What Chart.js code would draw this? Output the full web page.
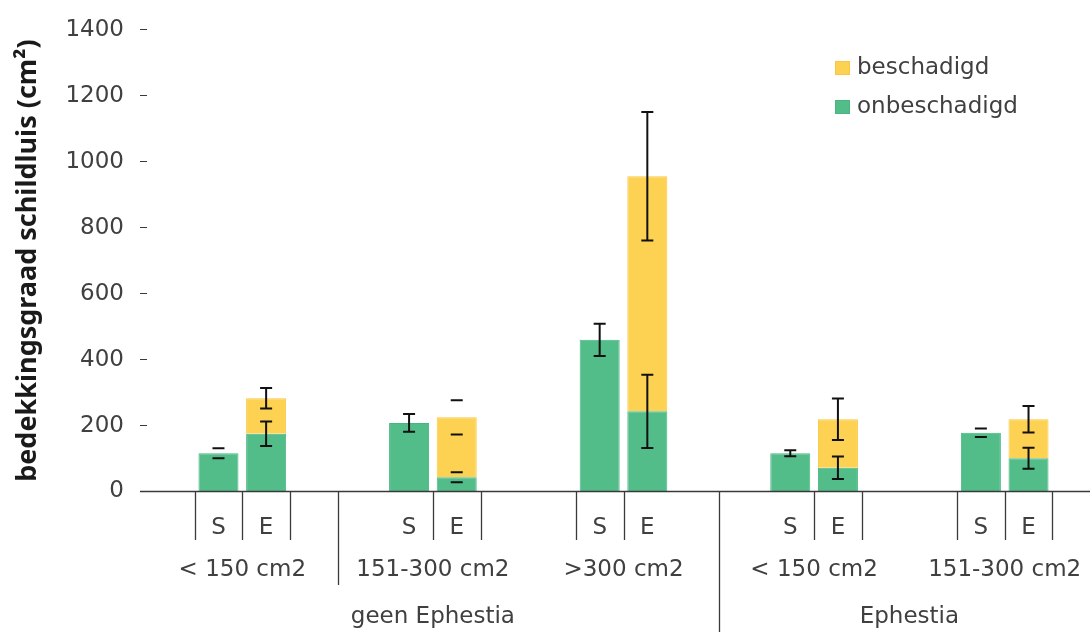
<!DOCTYPE html>
<html>
<head>
<meta charset="utf-8">
<script src="https://cdn.jsdelivr.net/npm/chart.js@4.4.0/dist/chart.umd.min.js"></script>
<style>
  html, body { margin: 0; padding: 0; background: #fff; overflow: hidden; }
  #wrap { width: 1110px; height: 632px; }
</style>
</head>
<body>
<div id="wrap"><canvas id="myChart" width="1110" height="632"></canvas></div>
<script>
'use strict';

// one slot per bar, empty slots keep the groups apart
var slotLabels = ['', 'S', 'E', '', '', 'S', 'E', '', '', 'S', 'E', '', '', 'S', 'E', '', '', 'S', 'E', ''];
var sizeLabels = ['< 150 cm2', '151-300 cm2', '>300 cm2', '< 150 cm2', '151-300 cm2'];
var treatLabels = ['geen Ephestia', 'Ephestia'];

var onbeschadigd = [null, 116, 175, null, null, 208, 43, null, null, 460, 243, null, null, 116, 72, null, null, 178, 101, null];
var beschadigd = [null, null, 108, null, null, null, 182, null, null, null, 713, null, null, null, 147, null, null, null, 118, null];
var errOnbeschadigd = [null, 15, 37, null, null, 27, 15, null, null, 49, 111, null, null, 9, 34, null, null, 13, 32, null];
var errBeschadigd = [null, null, 31, null, null, null, 52, null, null, null, 195, null, null, null, 63, null, null, null, 40, null];

var yMax = 1400;
var yStep = 200;

var textColor = '#404040';
var lineColor = '#3a3a3a';
var font = 'DejaVu Sans';

var errorBars = {
  id: 'errorBars',
  afterDatasetsDraw: function(chart, args, opts) {
    var ctx = chart.ctx;
    var yScale = chart.scales.y;
    var errs = [errOnbeschadigd, errBeschadigd];
    ctx.save();
    ctx.strokeStyle = '#111';
    ctx.lineWidth = 2;
    for (var i = 0; i < errs.length; i++) {
      var meta = chart.getDatasetMeta(i);
      for (var j = 0; j < errs[i].length; j++) {
        var e = errs[i][j];
        if (e === null) continue;
        var el = meta.data[j];
        var v = yScale.getValueForPixel(el.y);
        var hi = yScale.getPixelForValue(v + e);
        var lo = yScale.getPixelForValue(v - e);
        var capsOnly = opts.capsOnly.some(function(p) { return p[0] === i && p[1] === j; });
        ctx.beginPath();
        if (!capsOnly) {
          ctx.moveTo(el.x, hi);
          ctx.lineTo(el.x, lo);
        }
        ctx.moveTo(el.x - 6, hi);
        ctx.lineTo(el.x + 6, hi);
        ctx.moveTo(el.x - 6, lo);
        ctx.lineTo(el.x + 6, lo);
        ctx.stroke();
      }
    }
    ctx.restore();
  }
};

var categoryAxis = {
  id: 'categoryAxis',
  afterDraw: function(chart, args, opts) {
    var ctx = chart.ctx;
    var x = chart.scales.x;
    var area = chart.chartArea;
    var bottom = area.bottom;
    function edge(k) { return x.getPixelForValue(k - 0.5); }

    ctx.save();
    ctx.strokeStyle = lineColor;
    ctx.lineWidth = 1.3;
    ctx.beginPath();
    ctx.moveTo(area.left - 7, bottom);
    ctx.lineTo(chart.width, bottom);
    opts.lines.forEach(function(l) {
      var px = Math.round(edge(l[0])) + 0.5;
      ctx.moveTo(px, bottom);
      ctx.lineTo(px, l[1]);
    });
    ctx.stroke();

    ctx.fillStyle = textColor;
    ctx.font = '23px "' + font + '"';
    ctx.textAlign = 'center';
    ctx.textBaseline = 'middle';
    sizeLabels.forEach(function(t, g) {
      ctx.fillText(t, (edge(g * 4) + edge(g * 4 + 4)) / 2, opts.sizeY);
    });
    var spans = [[0, 12], [12, 20]];
    treatLabels.forEach(function(t, g) {
      ctx.fillText(t, (edge(spans[g][0]) + edge(spans[g][1])) / 2, opts.treatY);
    });
    ctx.restore();
  }
};

var boxLegend = {
  id: 'boxLegend',
  afterDraw: function(chart, args, opts) {
    var ctx = chart.ctx;
    var sets = chart.data.datasets.slice().reverse();
    ctx.save();
    ctx.font = '23px "' + font + '"';
    ctx.textBaseline = 'middle';
    sets.forEach(function(ds, i) {
      var y = opts.y + i * opts.gap;
      ctx.fillStyle = ds.backgroundColor;
      ctx.fillRect(opts.x, y - 7, 15, 14);
      ctx.strokeStyle = ds.borderColor;
      ctx.lineWidth = 1;
      ctx.strokeRect(opts.x + 0.5, y - 6.5, 14, 13);
      ctx.fillStyle = textColor;
      ctx.fillText(ds.label, opts.x + 22, y);
    });
    ctx.restore();
  }
};

var ctx = document.getElementById('myChart').getContext('2d');
var chart = new Chart(ctx, {
  type: 'bar',
  data: {
    labels: slotLabels,
    datasets: [{
      label: 'onbeschadigd',
      data: onbeschadigd,
      backgroundColor: 'rgb(82, 189, 137)',
      borderColor: 'rgb(72, 182, 128)',
      borderWidth: 1
    }, {
      label: 'beschadigd',
      data: beschadigd,
      backgroundColor: 'rgb(253, 210, 82)',
      borderColor: 'rgb(250, 198, 64)',
      borderWidth: 1
    }]
  },
  options: {
    responsive: false,
    animation: false,
    devicePixelRatio: 1,
    barPercentage: 0.84,
    categoryPercentage: 1,
    layout: { padding: { top: 22, right: 10, left: 0, bottom: 0 } },
    plugins: {
      legend: { display: false },
      tooltip: { enabled: false },
      errorBars: { capsOnly: [[0, 1], [0, 6], [1, 6], [0, 17]] },
      categoryAxis: {
        lines: [[1, 540], [2, 540], [3, 540], [4, 585], [6, 540], [7, 540], [9, 540], [10, 540],
                [12, 632], [14, 540], [15, 540], [17, 540], [18, 540], [19, 540]],
        sizeY: 570,
        treatY: 617
      },
      boxLegend: { x: 835, y: 68, gap: 39 }
    },
    scales: {
      x: {
        stacked: true,
        grid: { display: false },
        border: { display: false },
        ticks: {
          autoSkip: false,
          maxRotation: 0,
          padding: 15,
          color: textColor,
          font: { family: font, size: 23 }
        },
        afterFit: function(s) { s.height = 140.5; }
      },
      y: {
        stacked: true,
        min: 0,
        max: yMax,
        grid: {
          drawOnChartArea: false,
          drawTicks: true,
          tickLength: 7,
          tickColor: lineColor,
          tickWidth: 1
        },
        border: { display: false },
        ticks: {
          stepSize: yStep,
          padding: 16,
          color: textColor,
          font: { family: font, size: 23 },
          callback: function(v) { return String(v); }
        },
        title: {
          display: true,
          text: 'bedekkingsgraad schildluis (cm²)',
          color: '#1a1a1a',
          font: { family: 'Noto Sans', size: 27, weight: 'bold' },
          padding: { top: 12, bottom: 0 }
        },
        afterFit: function(s) { s.width = 147; }
      }
    }
  },
  plugins: [errorBars, categoryAxis, boxLegend]
});
</script>
</body>
</html>
